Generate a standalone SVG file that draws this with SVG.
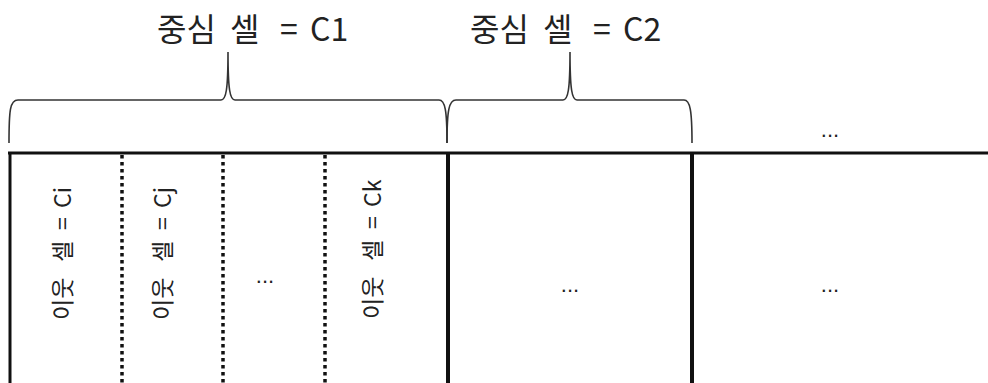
<svg xmlns="http://www.w3.org/2000/svg" width="988" height="383" viewBox="0 0 988 383">
<style>
.bg{fill:#ffffff}
.t{font-family:"Noto Sans CJK KR","Noto Sans",sans-serif;fill:#222}
.top{font-size:32px}
.v{font-size:23px}
.dots{font-family:"Liberation Sans",Arial,sans-serif;font-size:22px;fill:#222;text-anchor:middle}
.brace{fill:none;stroke:#333;stroke-width:1.6}
.solid{stroke:#111;stroke-width:3;fill:none}
.thick{stroke:#111;stroke-width:4;fill:none}
.dotted{stroke:#111;stroke-width:3.5;stroke-dasharray:3.5 3.5;fill:none}
</style>
<rect class="bg" x="0" y="0" width="988" height="383"/>
<g id="label-c1">
<text class="t top" y="41"><tspan x="157">중심</tspan><tspan x="230">셀</tspan><tspan x="280">=</tspan><tspan x="310">C1</tspan></text>
</g>
<g id="label-c2">
<text class="t top" y="41"><tspan x="470">중심</tspan><tspan x="543">셀</tspan><tspan x="593">=</tspan><tspan x="623">C2</tspan></text>
</g>
<g id="label-more">
<text class="dots" x="830" y="137">...</text>
</g>
<g id="connectors">
<path class="brace" d="M9,143 C9,110 10,100 18,100 L221,100 C226,100 228,90 228,52 C228,90 230,100 235,100 L439,100 C445,100 447,110 447,143"/>
<path class="brace" d="M447,143 C447,110 449,100 456,100 L563,100 C568,100 570,90 570,52 C570,90 572,100 577,100 L684,100 C690,100 692,110 692,143"/>
</g>
<g id="table">
<line class="solid" x1="8" y1="153" x2="988" y2="153"/>
<line class="solid" x1="10" y1="152" x2="10" y2="383"/>
<line class="dotted" x1="122" y1="155" x2="122" y2="383"/>
<line class="dotted" x1="223" y1="155" x2="223" y2="383"/>
<line class="dotted" x1="325" y1="155" x2="325" y2="383"/>
<line class="thick" x1="448" y1="152" x2="448" y2="383"/>
<line class="thick" x1="692" y1="152" x2="692" y2="383"/>
</g>
<g id="cell-ci">
<text class="t v" transform="translate(63,254) rotate(-90)" y="8"><tspan x="-66">이웃</tspan><tspan x="-8">셀</tspan><tspan x="24">=</tspan><tspan x="46">Ci</tspan></text>
</g>
<g id="cell-cj">
<text class="t v" transform="translate(163,254) rotate(-90)" y="8"><tspan x="-66">이웃</tspan><tspan x="-8">셀</tspan><tspan x="24">=</tspan><tspan x="46">Cj</tspan></text>
</g>
<g id="cell-more">
<text class="dots" x="265" y="283">...</text>
</g>
<g id="cell-ck">
<text class="t v" transform="translate(373,253) rotate(-90)" y="8"><tspan x="-66">이웃</tspan><tspan x="-8">셀</tspan><tspan x="24">=</tspan><tspan x="46">Ck</tspan></text>
</g>
<g id="cell-c2">
<text class="dots" x="570" y="292">...</text>
</g>
<g id="cell-c3">
<text class="dots" x="830" y="292">...</text>
</g>
</svg>
